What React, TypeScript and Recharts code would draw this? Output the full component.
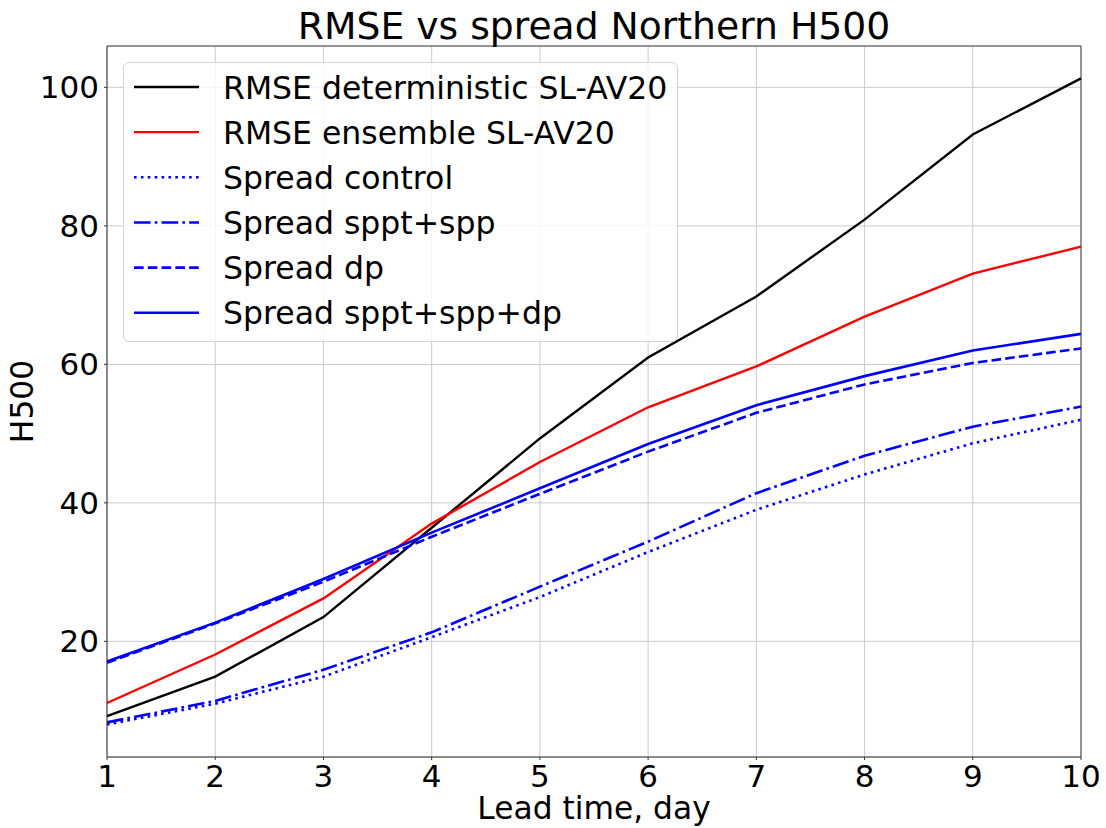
import React from 'react';
import { LineChart, Line, XAxis, YAxis, CartesianGrid, Legend, ReferenceLine, Label } from 'recharts';

// lead time in days
const days = [1, 2, 3, 4, 5, 6, 7, 8, 9, 10];

// values
const rmseDeterministic = [9.2, 14.9, 23.5, 36.4, 49.3, 61.0, 69.8, 80.9, 93.2, 101.3];
const rmseEnsemble = [11.1, 18.1, 26.2, 37.0, 45.9, 53.8, 59.7, 66.9, 73.1, 77.0];
const spreadControl = [8.0, 11.0, 14.9, 20.6, 26.4, 32.9, 39.0, 44.1, 48.6, 52.0];
const spreadSpptSpp = [8.3, 11.4, 15.9, 21.3, 27.9, 34.4, 41.4, 46.8, 51.0, 53.9];
const spreadDp = [16.9, 22.6, 28.6, 35.1, 41.3, 47.4, 53.0, 57.1, 60.2, 62.3];
const spreadSpptSppDp = [17.1, 22.7, 29.0, 35.7, 42.1, 48.5, 54.1, 58.3, 62.0, 64.4];

const yTicks = [20, 40, 60, 80, 100];
const Y_MIN = 3.3;
const Y_MAX = 105.97;

const data = days.map((day, i) => ({
  day,
  rmseDet: rmseDeterministic[i],
  rmseEns: rmseEnsemble[i],
  sprCtrl: spreadControl[i],
  sprSppt: spreadSpptSpp[i],
  sprDp: spreadDp[i],
  sprAll: spreadSpptSppDp[i],
}));

const FONT = '"DejaVu Sans", sans-serif';
const BLUE_W = 2.6;

// drawn in this order, last one on top (same as matplotlib)
const series = [
  { key: 'rmseDet', name: 'RMSE deterministic SL-AV20', color: '#000000', width: 2.4, dash: undefined },
  { key: 'rmseEns', name: 'RMSE ensemble SL-AV20', color: '#ff0000', width: 2.4, dash: undefined },
  { key: 'sprCtrl', name: 'Spread control', color: '#0000ff', width: BLUE_W, dash: `${BLUE_W} ${BLUE_W * 1.65}` },
  { key: 'sprSppt', name: 'Spread sppt+spp', color: '#0000ff', width: BLUE_W, dash: `${BLUE_W * 6.4} ${BLUE_W * 1.6} ${BLUE_W} ${BLUE_W * 1.6}` },
  { key: 'sprDp', name: 'Spread dp', color: '#0000ff', width: BLUE_W, dash: `${BLUE_W * 3.7} ${BLUE_W * 1.6}` },
  { key: 'sprAll', name: 'Spread sppt+spp+dp', color: '#0000ff', width: BLUE_W, dash: undefined },
];

const tickStyle = { fill: '#000', fontSize: 31, fontFamily: FONT };

const ChartLegend = () => (
  <div
    style={{
      width: 555,
      height: 280,
      boxSizing: 'border-box',
      border: '1px solid #d4d4d4',
      borderRadius: 6,
      background: 'rgba(255,255,255,0.8)',
    }}
  >
    <svg width={553} height={278} style={{ display: 'block' }}>
      {series.map((s, i) => {
        const cy = 24 + i * 45.15;
        return (
          <g key={s.key}>
            <line x1={10} x2={75} y1={cy} y2={cy} stroke={s.color} strokeWidth={s.width} strokeDasharray={s.dash} />
            <text x={99} y={cy + 11.5} fontSize={31.5} fontFamily={FONT} fill="#000">
              {s.name}
            </text>
          </g>
        );
      })}
    </svg>
  </div>
);

const YLabel = (props: any) => {
  const vb = props.viewBox || {};
  const cy = vb.y + vb.height / 2;
  return (
    <text x={33} y={cy} transform={`rotate(-90, 33, ${cy})`} textAnchor="middle" fontSize={31.3} fontFamily={FONT} fill="#000">
      H500
    </text>
  );
};

export default function App() {
  return (
    <div style={{ position: 'absolute', left: 0, top: 0, width: 1106, height: 828, background: '#fff', fontFamily: FONT }}>
      <div
        style={{
          position: 'absolute',
          left: 107,
          width: 974,
          top: 7,
          textAlign: 'center',
          fontSize: 37.7,
          lineHeight: '38px',
          color: '#000',
          zIndex: 2,
        }}
      >
        RMSE vs spread Northern H500
      </div>
      <LineChart width={1106} height={828} data={data} margin={{ top: 46, right: 25, left: 0, bottom: 0 }}>
        <CartesianGrid stroke="#cacaca" strokeWidth={1} />
        <XAxis
          dataKey="day"
          type="number"
          domain={[1, 10]}
          ticks={days}
          interval={0}
          height={71}
          tick={tickStyle}
          tickSize={3}
          tickMargin={5}
          axisLine={{ stroke: '#333' }}
          tickLine={{ stroke: '#333' }}
        >
          <Label value="Lead time, day" position="insideBottom" offset={9} fontSize={31.3} fontFamily={FONT} fill="#000" />
        </XAxis>
        <YAxis
          type="number"
          domain={[Y_MIN, Y_MAX]}
          allowDataOverflow
          ticks={yTicks}
          interval={0}
          width={107}
          tick={tickStyle}
          tickSize={3}
          tickMargin={5}
          axisLine={{ stroke: '#333' }}
          tickLine={{ stroke: '#333' }}
        >
          <Label content={<YLabel />} />
        </YAxis>
        <ReferenceLine y={Y_MAX} stroke="#444" strokeWidth={1} />
        <ReferenceLine x={10} stroke="#444" strokeWidth={1} />
        {series.map((s) => (
          <Line
            key={s.key}
            type="linear"
            dataKey={s.key}
            name={s.name}
            stroke={s.color}
            strokeWidth={s.width}
            strokeDasharray={s.dash}
            dot={false}
            activeDot={false}
            isAnimationActive={false}
          />
        ))}
        <Legend
          layout="vertical"
          align="center"
          verticalAlign="middle"
          content={<ChartLegend />}
          wrapperStyle={{ left: 123, top: 62, width: 555, height: 280 }}
        />
      </LineChart>
    </div>
  );
}
